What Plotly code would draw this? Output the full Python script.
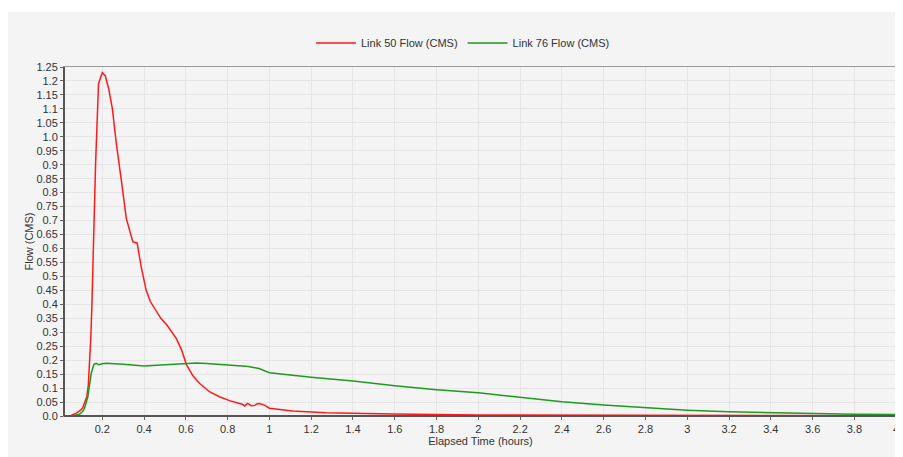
import plotly.graph_objects as go

# Link 50 Flow (CMS)
t50 = [0.0167, 0.05, 0.076, 0.095, 0.107, 0.118, 0.126, 0.133, 0.139, 0.145, 0.150, 0.158,
       0.168, 0.182, 0.2, 0.214, 0.230, 0.248, 0.267, 0.291, 0.315, 0.346, 0.367, 0.386,
       0.41, 0.43, 0.458, 0.48, 0.51, 0.554, 0.58, 0.602, 0.633, 0.665, 0.713, 0.761,
       0.809, 0.84, 0.857, 0.87, 0.881, 0.896, 0.905, 0.913, 0.93, 0.94, 0.952, 0.976,
       1.0, 1.11, 1.27, 1.59, 2.0, 2.8, 4.0]
v50 = [0.0, 0.002, 0.01, 0.02, 0.03, 0.05, 0.07, 0.11, 0.18, 0.28, 0.39, 0.63,
       0.906, 1.19, 1.23, 1.219, 1.174, 1.102, 0.977, 0.845, 0.708, 0.624, 0.619, 0.535,
       0.45, 0.41, 0.374, 0.35, 0.325, 0.278, 0.236, 0.185, 0.145, 0.117, 0.087, 0.069,
       0.055, 0.05, 0.045, 0.042, 0.036, 0.045, 0.04, 0.037, 0.038, 0.043, 0.045, 0.039,
       0.028, 0.018, 0.012, 0.007, 0.004, 0.002, 0.001]

# Link 76 Flow (CMS)
t76 = [0.0167, 0.06, 0.091, 0.105, 0.115, 0.131, 0.147, 0.160, 0.171, 0.182, 0.2, 0.219,
       0.3, 0.4, 0.5, 0.6, 0.65, 0.7, 0.8, 0.9, 0.95, 0.975, 1.0, 1.2, 1.4, 1.6, 1.8,
       2.0, 2.2, 2.4, 2.6, 2.8, 3.0, 3.2, 3.4, 3.6, 3.8, 4.0]
v76 = [0.0, 0.001, 0.006, 0.015, 0.028, 0.069, 0.153, 0.185, 0.189, 0.184, 0.187, 0.189,
       0.185, 0.179, 0.184, 0.189, 0.190, 0.188, 0.183, 0.177, 0.170, 0.162, 0.155, 0.139,
       0.125, 0.108, 0.094, 0.083, 0.067, 0.051, 0.039, 0.030, 0.021, 0.015, 0.012, 0.008,
       0.006, 0.005]

y_ticks = [round(i * 0.05, 2) for i in range(26)]
y_labels = ["0.0", "0.05", "0.1", "0.15", "0.2", "0.25", "0.3", "0.35", "0.4", "0.45",
            "0.5", "0.55", "0.6", "0.65", "0.7", "0.75", "0.8", "0.85", "0.9", "0.95",
            "1.0", "1.05", "1.1", "1.15", "1.2", "1.25"]
x_ticks = [round(0.2 * i, 1) for i in range(1, 21)]
x_labels = ["0.2", "0.4", "0.6", "0.8", "1", "1.2", "1.4", "1.6", "1.8", "2",
            "2.2", "2.4", "2.6", "2.8", "3", "3.2", "3.4", "3.6", "3.8", "4"]

fig = go.Figure()
fig.add_trace(go.Scatter(x=t50, y=v50, mode="lines", name="Link 50 Flow (CMS)",
                         line=dict(color="#ff1a1a", width=1.5)))
fig.add_trace(go.Scatter(x=t76, y=v76, mode="lines", name="Link 76 Flow (CMS)",
                         line=dict(color="#1f991f", width=1.5)))

# page has an 8px body margin; work in figure coordinates
OFF = 8
W, H = 903 - OFF, 457 - OFF
L, T = 64 - OFF, 67 - OFF
R = W - (897 - OFF)
B = H - (416 - OFF)
pw, ph = W - L - R, H - T - B

def px(x):
    return (x - OFF - L) / pw

def py(y):
    return (H - B - (y - OFF)) / ph

fig.update_layout(
    width=W, height=H,
    margin=dict(l=L, r=R, t=T, b=B, autoexpand=False),
    paper_bgcolor="white",
    plot_bgcolor="white",
    font=dict(family="Liberation Sans, Arial, sans-serif", size=11, color="#333333"),
    showlegend=True,
    legend=dict(orientation="h", xref="container", yref="container",
                x=(463 - OFF) / W, xanchor="center", y=1 - (43 - OFF) / H, yanchor="middle",
                bgcolor="rgba(0,0,0,0)", font=dict(size=11, color="#333333"),
                itemwidth=40),
    xaxis=dict(range=[0.0167, 4.004], tickvals=x_ticks, ticktext=x_labels,
               automargin=False, ticklabeloverflow="allow",
               showgrid=True, gridcolor="#e6e6e6", gridwidth=1, zeroline=False,
               showline=True, linecolor="#9a9a9a", linewidth=1, mirror=True,
               ticks="outside", ticklen=3, tickcolor="#666666",
               title=dict(text="Elapsed Time (hours)", standoff=0,
                          font=dict(size=11, color="#333333"))),
    yaxis=dict(range=[0, 1.25], tickvals=y_ticks, ticktext=y_labels,
               automargin=False,
               showgrid=True, gridcolor="#e6e6e6", gridwidth=1, zeroline=False,
               showline=True, linecolor="#9a9a9a", linewidth=1, mirror=True,
               ticks="outside", ticklen=3, tickcolor="#666666",
               title=dict(text="Flow (CMS)", standoff=0,
                          font=dict(size=11, color="#333333"))),
    shapes=[
        dict(type="rect", xref="paper", yref="paper", layer="below",
             x0=px(OFF), x1=px(903), y0=py(457), y1=py(12),
             fillcolor="#f4f4f4", line=dict(width=0)),
        dict(type="line", xref="paper", yref="paper", layer="above",
             x0=0, x1=0, y0=0, y1=1, line=dict(color="#555555", width=2)),
        dict(type="line", xref="paper", yref="paper", layer="above",
             x0=0, x1=1, y0=0, y1=0, line=dict(color="#555555", width=2)),
    ],
)

fig.write_html("out.html")
